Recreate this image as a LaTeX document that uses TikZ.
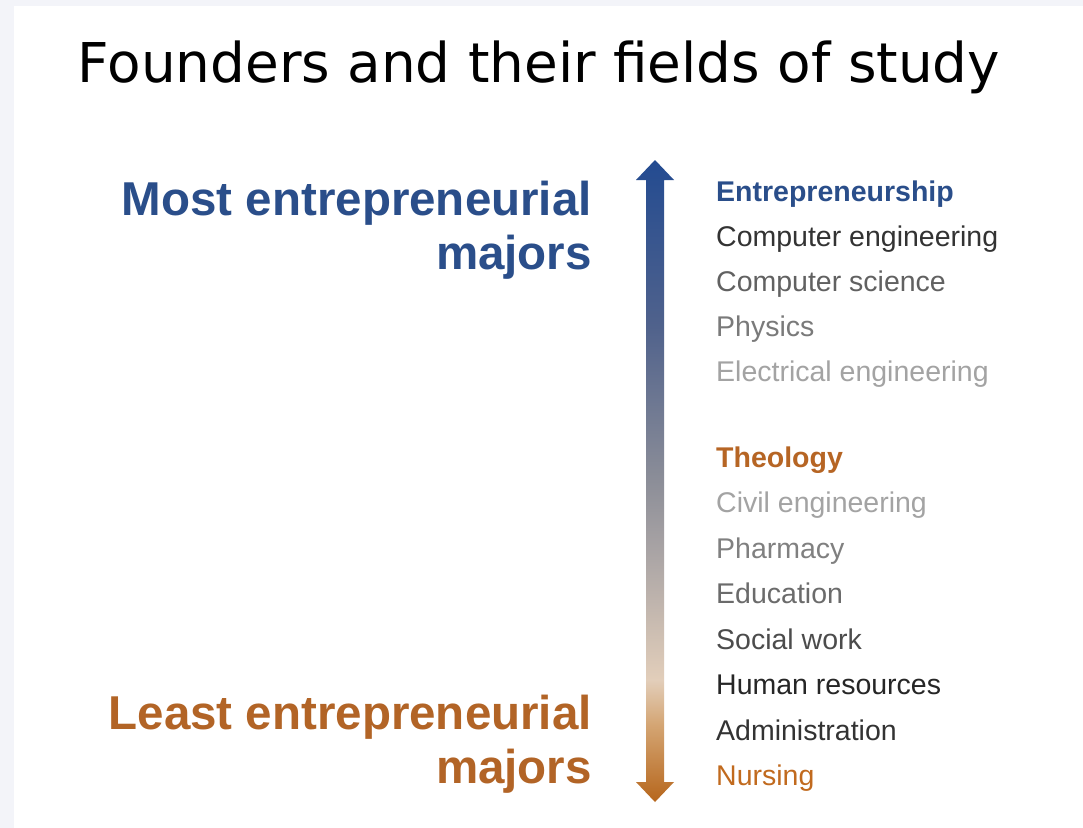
\documentclass[tikz,border=0pt]{standalone}
\usepackage{fontspec}
\setmainfont{Liberation Sans}
\newfontfamily\handfont{DejaVu Sans}
\usepackage{graphicx}
\usepackage{tikz}
\usetikzlibrary{positioning}
\definecolor{mst}{RGB}{42,78,138}
\definecolor{lst}{RGB}{178,100,38}
\definecolor{pane}{RGB}{243,244,249}
\definecolor{gblu}{RGB}{35,75,145}
\definecolor{gsla}{RGB}{80,98,140}
\definecolor{ggry}{RGB}{140,142,152}
\definecolor{glgt}{RGB}{172,166,166}
\definecolor{gbei}{RGB}{226,206,186}
\definecolor{gtan}{RGB}{212,165,115}
\definecolor{gbrn}{RGB}{182,102,28}
\pgfdeclareverticalshading{majorshade}{100bp}{color(0bp)=(gbrn); color(25bp)=(gbrn); color(31bp)=(gtan); color(34.5bp)=(gbei); color(44bp)=(glgt); color(50bp)=(ggry); color(62bp)=(gsla); color(75bp)=(gblu); color(100bp)=(gblu)}

\begin{document}
\begin{tikzpicture}[x=1bp,y=-1bp,
  big/.style={font=\fontsize{47.5bp}{54bp}\selectfont\bfseries,align=right,inner sep=0pt,anchor=base east},
  item/.style={font=\fontsize{28.5bp}{30bp}\selectfont,inner sep=0pt,anchor=base west},
  head/.style={item,font=\fontsize{28.5bp}{30bp}\selectfont\bfseries}]
  \useasboundingbox (0,0) rectangle (1083,828);
  \fill[pane] (0,0) rectangle (1083,828);
  \fill[white] (14,6) rectangle (1083,828);
  % title
  \node[inner sep=0pt,anchor=base] (title) at (539,82)
    {\resizebox{922bp}{!}{\handfont Founders and their fields of study}};
  % the two ends of the scale
  \node[big,text=mst] (most) at (592,269) {Most entrepreneurial\\majors};
  \node[big,text=lst] (least) at (592,783) {Least entrepreneurial\\majors};
  \coordinate (up) at (655,160);
  \coordinate (down) at (655,802);
  \shade[shading=majorshade] (up) -- ([shift={(19,20)}]up) -- ([shift={(9,20)}]up)
    -- ([shift={(9,-20)}]down) -- ([shift={(19,-20)}]down) -- (down)
    -- ([shift={(-19,-20)}]down) -- ([shift={(-9,-20)}]down)
    -- ([shift={(-9,20)}]up) -- ([shift={(-19,20)}]up) -- cycle;
  % top of the list
  \node[head,text=mst] (entr) at (716,201) {Entrepreneurship};
  \node[item,text=black!80] (ceng) at ([yshift=-45bp]entr.base west) {Computer engineering};
  \node[item,text=black!62] (csci) at ([yshift=-45bp]ceng.base west) {Computer science};
  \node[item,text=black!52] (phys) at ([yshift=-45bp]csci.base west) {Physics};
  \node[item,text=black!36] (elec) at ([yshift=-45bp]phys.base west) {Electrical engineering};
  % bottom of the list
  \node[head,text=lst!95!orange] (theo) at (716,467) {Theology};
  \node[item,text=black!36] (civl) at ([yshift=-45.5bp]theo.base west) {Civil engineering};
  \node[item,text=black!50] (phar) at ([yshift=-45.5bp]civl.base west) {Pharmacy};
  \node[item,text=black!58] (educ) at ([yshift=-45.5bp]phar.base west) {Education};
  \node[item,text=black!70] (socw) at ([yshift=-45.5bp]educ.base west) {Social work};
  \node[item,text=black!85] (hres) at ([yshift=-45.5bp]socw.base west) {Human resources};
  \node[item,text=black!80] (admn) at ([yshift=-45.5bp]hres.base west) {Administration};
  \node[item,text=lst!80!orange] (nurs) at ([yshift=-45.5bp]admn.base west) {Nursing};
\end{tikzpicture}
\end{document}
